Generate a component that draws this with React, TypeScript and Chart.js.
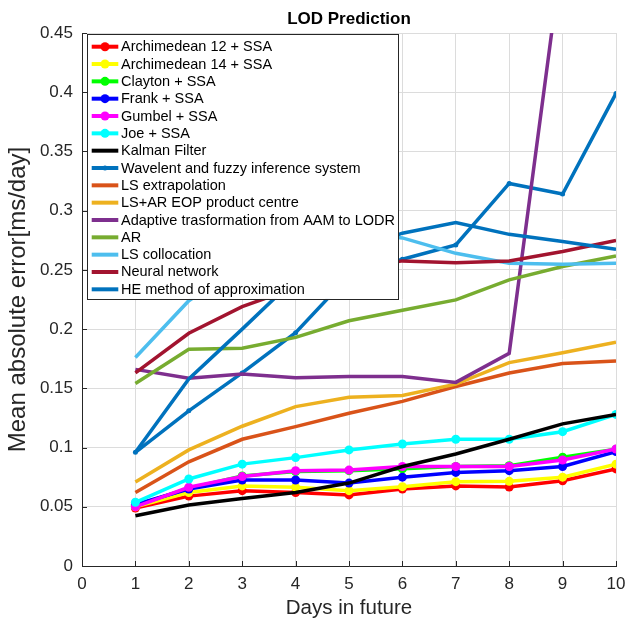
import React, { useEffect, useRef } from 'react';
import { Chart, registerables } from 'chart.js';
Chart.register(...registerables);

const days = [1, 2, 3, 4, 5, 6, 7, 8, 9, 10];
const xTicks = [0, 1, 2, 3, 4, 5, 6, 7, 8, 9, 10];
const yTicks = [0, 0.05, 0.1, 0.15, 0.2, 0.25, 0.3, 0.35, 0.4, 0.45];

const arch12 = [0.049, 0.059, 0.0636, 0.062, 0.06, 0.065, 0.0676, 0.0667, 0.072, 0.082];
const arch14 = [0.05, 0.062, 0.0676, 0.0665, 0.0636, 0.067, 0.0712, 0.0715, 0.075, 0.086];
const clayton = [0.051, 0.0656, 0.076, 0.0797, 0.0805, 0.082, 0.084, 0.0847, 0.0918, 0.0985];
const frank = [0.052, 0.065, 0.0726, 0.0726, 0.07, 0.075, 0.079, 0.0805, 0.084, 0.0966];
const gumbel = [0.05, 0.0665, 0.0755, 0.0805, 0.081, 0.084, 0.084, 0.084, 0.0895, 0.0988];
const joe = [0.0538, 0.0735, 0.086, 0.0915, 0.098, 0.103, 0.107, 0.107, 0.1134, 0.128];
const kalman = [0.0425, 0.0515, 0.057, 0.062, 0.07, 0.084, 0.0946, 0.107, 0.12, 0.128];
const wavelet = [0.096, 0.131, 0.163, 0.197, 0.245, 0.259, 0.271, 0.323, 0.314, 0.399];
const lsExtrap = [0.062, 0.088, 0.107, 0.1177, 0.129, 0.139, 0.1515, 0.163, 0.171, 0.173];
const lsAr = [0.071, 0.098, 0.118, 0.1346, 0.1425, 0.1439, 0.1535, 0.1717, 0.18, 0.189];
const adaptive = [0.166, 0.1585, 0.162, 0.159, 0.16, 0.16, 0.155, 0.1796, 0.52, 0.62];
const ar = [0.154, 0.183, 0.1838, 0.193, 0.207, 0.216, 0.2247, 0.2416, 0.2528, 0.2618];
const lsColloc = [0.176, 0.224, 0.255, 0.27, 0.282, 0.277, 0.264, 0.2557, 0.2548, 0.2557];
const neural = [0.163, 0.1965, 0.219, 0.235, 0.25, 0.2576, 0.256, 0.2576, 0.2655, 0.2748];
const heMethod = [0.096, 0.158, 0.2, 0.243, 0.265, 0.281, 0.29, 0.28, 0.274, 0.2675];

const seriesLabels = [
  'Archimedean 12 + SSA',
  'Archimedean 14 + SSA',
  'Clayton + SSA',
  'Frank + SSA',
  'Gumbel + SSA',
  'Joe + SSA',
  'Kalman Filter',
  'Wavelent and fuzzy inference system',
  'LS extrapolation',
  'LS+AR EOP product centre',
  'Adaptive trasformation from AAM to LODR',
  'AR',
  'LS collocation',
  'Neural network',
  'HE method of approximation',
];
const seriesValues = [arch12, arch14, clayton, frank, gumbel, joe, kalman, wavelet, lsExtrap, lsAr, adaptive, ar, lsColloc, neural, heMethod];
const seriesColors = ['#FF0000', '#FFFF00', '#00FF00', '#0000FF', '#FF00FF', '#00FFFF', '#000000', '#0072BD', '#D95319', '#EDB120', '#7E2F8E', '#77AC30', '#4DBEEE', '#A2142F', '#0072BD'];
const seriesMarker = [4.5, 4.5, 4.5, 4.5, 4.5, 4.5, 0, 2.5, 0, 0, 0, 0, 0, 0, 0];

const FONT = '"Liberation Sans", Arial, Helvetica, sans-serif';
const AXIS = '#262626';

const tickPlugin = {
  id: 'inwardTicks',
  afterDatasetsDraw(chart: any) {
    const { ctx, chartArea, scales } = chart;
    ctx.save();
    ctx.strokeStyle = AXIS;
    ctx.lineWidth = 1;
    ctx.beginPath();
    yTicks.forEach((v) => {
      const y = Math.round(scales.y.getPixelForValue(v)) + 0.5;
      ctx.moveTo(chartArea.left, y);
      ctx.lineTo(chartArea.left + 5, y);
    });
    xTicks.forEach((v) => {
      const x = Math.round(scales.x.getPixelForValue(v)) + 0.5;
      ctx.moveTo(x, chartArea.bottom);
      ctx.lineTo(x, chartArea.bottom - 5);
    });
    ctx.stroke();
    ctx.restore();
  },
};

const legendPlugin = {
  id: 'insideLegend',
  afterDraw(chart: any) {
    const { ctx, chartArea } = chart;
    const ds = chart.data.datasets;
    ctx.save();
    ctx.font = `14.5px ${FONT}`;
    const rowH = 17.33;
    const textW = Math.max(...ds.map((d: any) => ctx.measureText(d.label).width));
    const x0 = chartArea.left + 5;
    const y0 = chartArea.top + 1;
    const w = 34 + textW + 3;
    const h = rowH * ds.length + 5;
    ctx.fillStyle = '#ffffff';
    ctx.fillRect(x0, y0, w, h);
    ctx.strokeStyle = AXIS;
    ctx.lineWidth = 1;
    ctx.strokeRect(Math.round(x0) + 0.5, Math.round(y0) + 0.5, Math.round(w), Math.round(h));
    ds.forEach((d: any, i: number) => {
      const cy = y0 + 12.7 + i * rowH;
      ctx.strokeStyle = d.borderColor;
      ctx.lineWidth = 4;
      ctx.beginPath();
      ctx.moveTo(x0 + 4.7, cy);
      ctx.lineTo(x0 + 31.3, cy);
      ctx.stroke();
      if (d.pointRadius > 0) {
        ctx.fillStyle = d.borderColor;
        ctx.beginPath();
        ctx.arc(x0 + 18, cy, d.pointRadius, 0, Math.PI * 2);
        ctx.fill();
      }
      ctx.fillStyle = '#000000';
      ctx.textBaseline = 'middle';
      ctx.textAlign = 'left';
      ctx.fillText(d.label, x0 + 34, cy + 0.5);
    });
    ctx.restore();
  },
};

export default function App() {
  const ref = useRef<HTMLCanvasElement | null>(null);
  useEffect(() => {
    if (!ref.current) return;
    const n = seriesLabels.length;
    const datasets = seriesLabels.map((label, i) => ({
      label,
      data: days.map((d, j) => ({ x: d, y: seriesValues[i][j] })),
      borderColor: seriesColors[i],
      backgroundColor: seriesColors[i],
      pointBackgroundColor: seriesColors[i],
      pointBorderColor: seriesColors[i],
      pointRadius: seriesMarker[i],
      pointBorderWidth: 0,
      borderWidth: 3.5,
      tension: 0,
      order: n - i,
    }));
    const chart = new Chart(ref.current, {
      type: 'line',
      data: { datasets },
      plugins: [tickPlugin, legendPlugin],
      options: {
        responsive: false,
        animation: false,
        devicePixelRatio: 1,
        layout: { padding: { left: 0, right: 11, top: 0, bottom: 0 } },
        plugins: {
          legend: { display: false },
          tooltip: { enabled: false },
          title: {
            display: true,
            text: 'LOD Prediction',
            fullSize: false,
            color: '#000000',
            font: { family: FONT, size: 17, weight: 'bold' },
            padding: { top: 9.1, bottom: 3.5 },
          },
        },
        scales: {
          x: {
            type: 'linear',
            min: 0,
            max: 10,
            afterFit: (s: any) => { s.height = 54; s.paddingLeft = 0; s.paddingRight = 0; },
            afterBuildTicks: (s: any) => { s.ticks = xTicks.map((v) => ({ value: v })); },
            ticks: { color: AXIS, font: { family: FONT, size: 17 }, padding: 8 },
            grid: { color: '#dcdcdc', drawTicks: false, lineWidth: 1 },
            border: { display: true, color: AXIS, width: 1 },
            title: { display: true, text: 'Days in future', color: AXIS, font: { family: FONT, size: 20.5 }, padding: { top: 0, bottom: -1 } },
          },
          y: {
            type: 'linear',
            min: 0,
            max: 0.45,
            afterFit: (s: any) => { s.width = 82; },
            afterBuildTicks: (s: any) => { s.ticks = yTicks.map((v) => ({ value: v })); },
            ticks: {
              color: AXIS,
              font: { family: FONT, size: 17 },
              padding: 9,
              callback: (v: any) => String(Number(Number(v).toFixed(2))),
            },
            grid: { color: '#dcdcdc', drawTicks: false, lineWidth: 1 },
            border: { display: true, color: AXIS, width: 1 },
            title: { display: true, text: 'Mean absolute error[ms/day]', color: AXIS, font: { family: FONT, size: 24 }, padding: { top: 4, bottom: 0 } },
          },
        },
      },
    });
    return () => chart.destroy();
  }, []);
  return (
    <div style={{ position: 'fixed', left: 0, top: 0, width: 627, height: 620, background: '#fff' }}>
      <canvas ref={ref} width={627} height={620} style={{ width: 627, height: 620, display: 'block' }} />
    </div>
  );
}
